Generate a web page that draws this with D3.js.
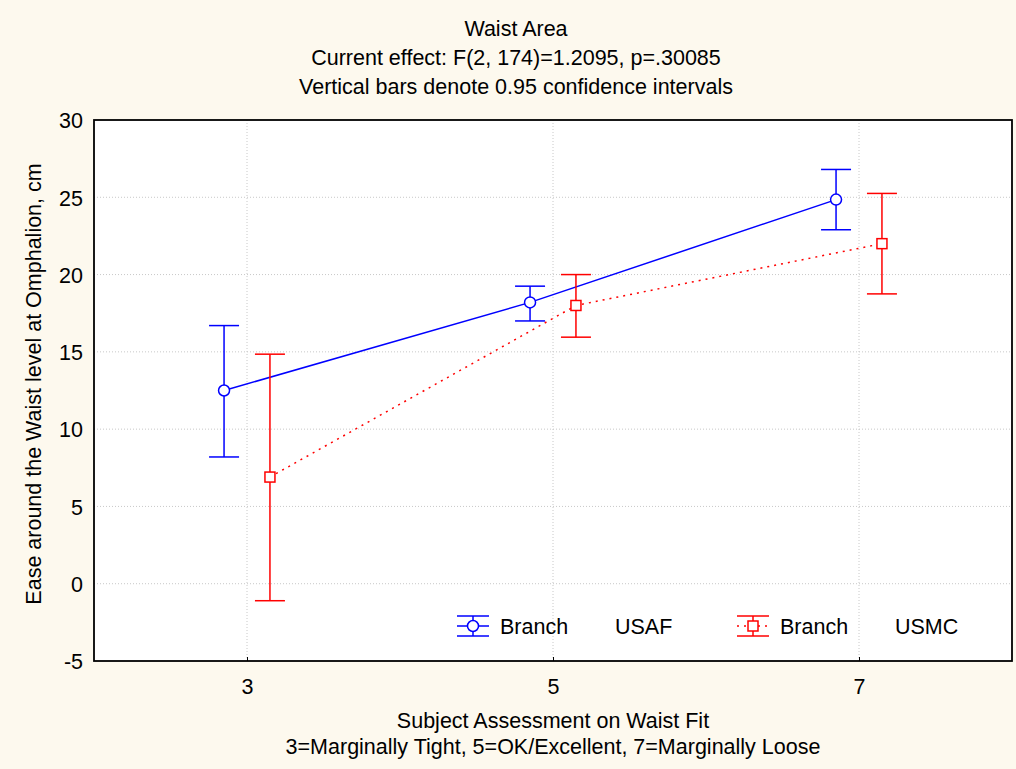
<!DOCTYPE html>
<html>
<head>
<meta charset="utf-8">
<script src="https://cdn.jsdelivr.net/npm/d3@7"></script>
<style>
  body { margin: 0; background: #fdf9ee; }
  text { font-family: "Liberation Sans", Arial, sans-serif; fill: #000; }
</style>
</head>
<body>
<div id="chart"></div>
<script>
// data
var levels = [3, 5, 7];
var usafMean = [12.5, 18.2, 24.85];
var usafLow = [8.2, 17.0, 22.9];
var usafHigh = [16.7, 19.25, 26.8];
var usmcMean = [6.9, 18.0, 22.0];
var usmcLow = [-1.1, 15.95, 18.75];
var usmcHigh = [14.85, 20.0, 25.25];
var yTicks = [-5, 0, 5, 10, 15, 20, 25, 30];
var titleLines = ["Waist Area", "Current effect: F(2, 174)=1.2095, p=.30085", "Vertical bars denote 0.95 confidence intervals"];
var xTitleLines = ["Subject Assessment on Waist Fit", "3=Marginally Tight, 5=OK/Excellent, 7=Marginally Loose"];

var W = 1016, H = 769;
var margin = {top: 120, right: 4, bottom: 108, left: 94};
var width = W - margin.left - margin.right,
    height = H - margin.top - margin.bottom;
var fontSize = '21.5px';

var svg = d3.select('#chart').append('svg')
    .attr('width', W)
    .attr('height', H);

svg.append('rect').attr('width', W).attr('height', H).attr('fill', '#fdf9ee');

var g = svg.append('g')
    .attr('transform', 'translate(' + margin.left + ',' + margin.top + ')');

var x = d3.scaleLinear().domain([2, 8]).range([0, width]);
var y = d3.scaleLinear().domain([-5, 30]).range([height, 0]);

g.append('rect').attr('width', width).attr('height', height).attr('fill', '#fff');

// grid
g.selectAll('.hgrid').data(yTicks.filter(d => d > -5 && d < 30)).enter()
    .append('line')
    .attr('x1', 0).attr('x2', width)
    .attr('y1', d => y(d)).attr('y2', d => y(d))
    .attr('stroke', '#c8c8c8').attr('stroke-dasharray', '1,2');
g.selectAll('.vgrid').data(levels).enter()
    .append('line')
    .attr('x1', d => x(d)).attr('x2', d => x(d))
    .attr('y1', 0).attr('y2', height)
    .attr('stroke', '#c8c8c8').attr('stroke-dasharray', '1,2');

// axes
var xAxis = g.append('g')
    .attr('transform', 'translate(0,' + height + ')')
    .call(d3.axisBottom(x).tickValues(levels).tickSize(-4).tickPadding(18).tickFormat(d3.format('d')));
var yAxis = g.append('g')
    .call(d3.axisLeft(y).tickValues(yTicks).tickSize(0).tickPadding(11).tickFormat(d => String(d)));
[xAxis, yAxis].forEach(a => {
    a.select('.domain').remove();
    a.selectAll('text').style('font-size', fontSize).attr('fill', '#000');
    a.selectAll('line').attr('stroke', '#000');
});
yAxis.selectAll('text').attr('dy', '0.36em');

function drawSeries(mean, low, high, offset, color, dashed, square) {
    var line = d3.line()
        .x((d, i) => x(levels[i] + offset))
        .y(d => y(d));
    g.append('path')
        .datum(mean)
        .attr('fill', 'none')
        .attr('stroke', color)
        .attr('stroke-width', 1.5)
        .attr('stroke-dasharray', dashed ? '2,5' : null)
        .attr('d', line);

    var bars = g.selectAll(null).data(mean).enter().append('g')
        .attr('transform', (d, i) => 'translate(' + x(levels[i] + offset) + ',0)');
    bars.append('line')
        .attr('y1', (d, i) => y(low[i])).attr('y2', (d, i) => y(high[i]))
        .attr('stroke', color).attr('stroke-width', 1.5);
    bars.append('line')
        .attr('x1', -15).attr('x2', 15)
        .attr('y1', (d, i) => y(low[i])).attr('y2', (d, i) => y(low[i]))
        .attr('stroke', color).attr('stroke-width', 1.5);
    bars.append('line')
        .attr('x1', -15).attr('x2', 15)
        .attr('y1', (d, i) => y(high[i])).attr('y2', (d, i) => y(high[i]))
        .attr('stroke', color).attr('stroke-width', 1.5);
    if (square) {
        bars.append('rect')
            .attr('x', -5).attr('y', d => y(d) - 5)
            .attr('width', 10).attr('height', 10)
            .attr('fill', '#fff').attr('stroke', color).attr('stroke-width', 1.5);
    } else {
        bars.append('circle')
            .attr('cy', d => y(d)).attr('r', 5.5)
            .attr('fill', '#fff').attr('stroke', color).attr('stroke-width', 1.5);
    }
}

drawSeries(usafMean, usafLow, usafHigh, -0.15, '#0000ff', false, false);
drawSeries(usmcMean, usmcLow, usmcHigh, 0.15, '#ff0000', true, true);

// frame
g.append('rect').attr('width', width).attr('height', height)
    .attr('fill', 'none').attr('stroke', '#000').attr('stroke-width', 1.8);

// Legend
var legendItems = [
    {x: 363, color: '#0000ff', dashed: false, square: false, name: 'USAF'},
    {x: 643, color: '#ff0000', dashed: true, square: true, name: 'USMC'}
];
var legend = g.selectAll('.legend').data(legendItems).enter().append('g')
    .attr('class', 'legend')
    .attr('transform', d => 'translate(' + d.x + ',' + (626 - margin.top) + ')');
legend.append('line')
    .attr('x1', 0).attr('x2', 32)
    .attr('stroke', d => d.color).attr('stroke-width', 1.5)
    .attr('stroke-dasharray', d => d.dashed ? '2,5' : null);
legend.append('line').attr('x1', 16).attr('x2', 16).attr('y1', -10).attr('y2', 10)
    .attr('stroke', d => d.color).attr('stroke-width', 1.5);
legend.append('line').attr('x1', 0).attr('x2', 32).attr('y1', -10).attr('y2', -10)
    .attr('stroke', d => d.color).attr('stroke-width', 1.5);
legend.append('line').attr('x1', 0).attr('x2', 32).attr('y1', 10).attr('y2', 10)
    .attr('stroke', d => d.color).attr('stroke-width', 1.5);
legend.each(function(d) {
    var s = d3.select(this);
    if (d.square) {
        s.append('rect').attr('x', 11).attr('y', -5).attr('width', 10).attr('height', 10)
            .attr('fill', '#fff').attr('stroke', d.color).attr('stroke-width', 1.5);
    } else {
        s.append('circle').attr('cx', 16).attr('r', 5.5)
            .attr('fill', '#fff').attr('stroke', d.color).attr('stroke-width', 1.5);
    }
});
legend.append('text').attr('x', 43).attr('dy', '0.36em').style('font-size', fontSize).text('Branch');
legend.append('text').attr('x', 158).attr('dy', '0.36em').style('font-size', fontSize).text(d => d.name);

// Chart title
svg.selectAll('.title').data(titleLines).enter().append('text')
    .attr('x', 516)
    .attr('y', (d, i) => 36 + i * 29)
    .attr('text-anchor', 'middle')
    .style('font-size', fontSize)
    .text(d => d);

// X axis label
svg.selectAll('.xlabel').data(xTitleLines).enter().append('text')
    .attr('x', 553)
    .attr('y', (d, i) => 728 + i * 26)
    .attr('text-anchor', 'middle')
    .style('font-size', fontSize)
    .text(d => d);

// Y axis label
svg.append('text')
    .attr('transform', 'translate(41,384) rotate(-90)')
    .attr('text-anchor', 'middle')
    .style('font-size', fontSize)
    .text('Ease around the Waist level at Omphalion, cm');
</script>
</body>
</html>
